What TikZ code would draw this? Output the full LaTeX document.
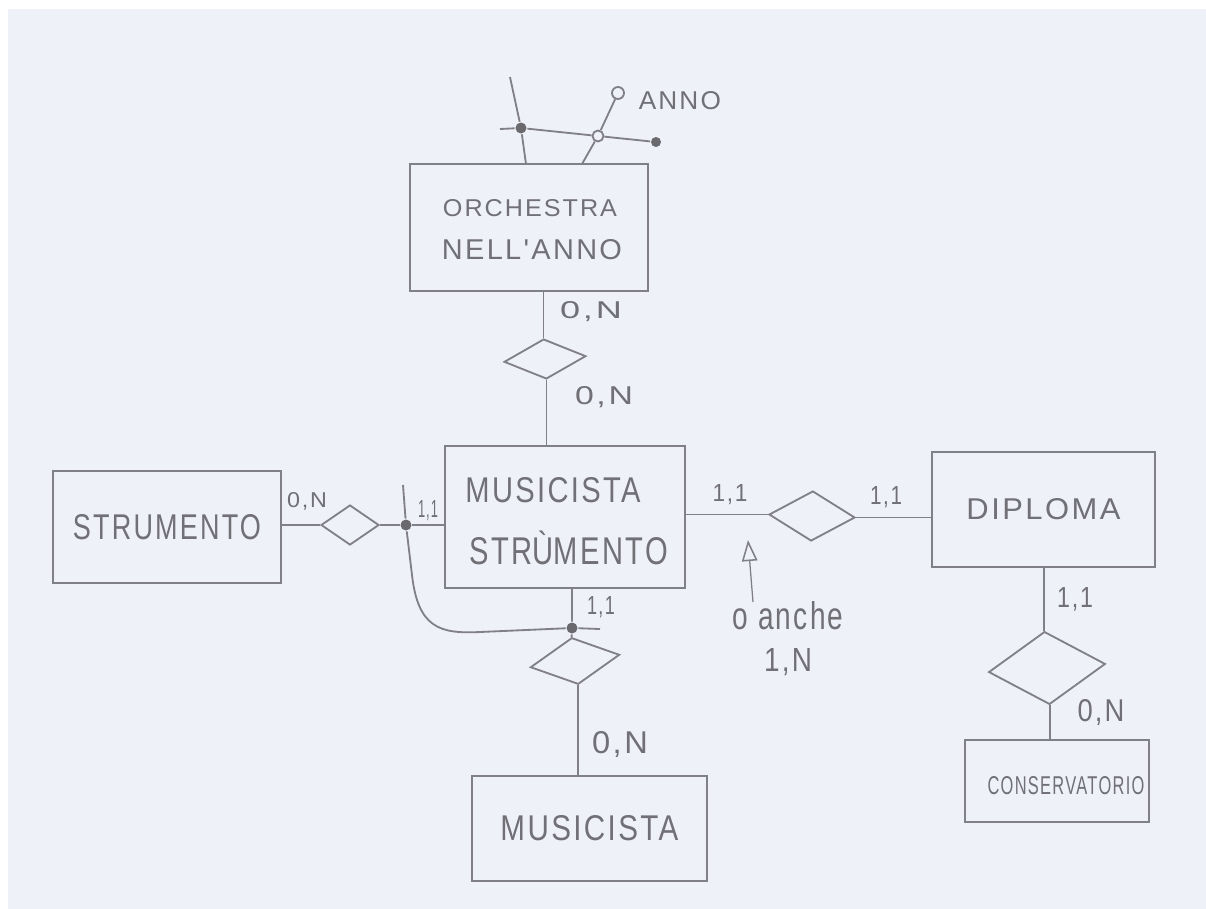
\documentclass[tikz,border=0pt]{standalone}
\usepackage{fontspec}
\usepackage{graphicx}
\usetikzlibrary{shapes.geometric,arrows.meta}
\newfontfamily\handfont[LetterSpace=8]{Liberation Sans}
\newdimen\px \px=0.025cm
\definecolor{paper}{RGB}{238,241,247}
\definecolor{pencil}{RGB}{128,128,134}
\definecolor{ink}{RGB}{112,112,118}
\definecolor{dotc}{RGB}{105,105,110}
\newcommand\hw[3]{\resizebox{#1\px}{#2\px}{\handfont #3}}
\tikzset{
  entity/.style={draw=pencil, rectangle, inner sep=0pt, text=ink},
  rel/.style={draw=pencil, diamond, inner sep=0pt},
  lbl/.style={text=ink, inner sep=0pt},
  dotf/.style={circle, fill=dotc, inner sep=0pt, minimum size=11\px},
  ring/.style={circle, draw=pencil, fill=paper, inner sep=0pt, minimum size=11\px},
  conn/.style={draw=pencil},
}
\begin{document}
\begin{tikzpicture}[x=0.025cm, y=-0.025cm, line width=1.3pt]
\fill[white] (0,0) rectangle (1206,909);
\fill[paper] (8,9) rectangle (1206,909);
\useasboundingbox (0,0) rectangle (1206,909);

% entities
\node[entity, minimum width=238\px, minimum height=127\px] (orch) at (529,227.5) {};
\node[lbl] (orchT1) at (530,208) {\hw{174}{17}{ORCHESTRA}};
\node[lbl] (orchT2) at (532,250) {\hw{180}{20}{NELL'ANNO}};

\node[entity, minimum width=228\px, minimum height=112\px] (strum) at (167,527) {\hw{188}{25}{STRUMENTO}};

\node[entity, minimum width=240\px, minimum height=142\px] (ms) at (565,517) {};
\node[lbl] (msT1) at (553,490) {\hw{175}{25}{MUSICISTA}};
\node[lbl] (msT2) at (569,551) {\hw{198}{27}{STR\smash{Ù}MENTO}};

\node[entity, minimum width=223\px, minimum height=115\px] (dip) at (1043.5,509.5) {\hw{154}{21}{DIPLOMA}};

\node[entity, minimum width=184\px, minimum height=82\px] (cons) at (1057,781) {};
\node[lbl] (consT) at (1066,786) {\hw{157}{18}{CONSERVATORIO}};

\node[entity, minimum width=235\px, minimum height=105\px] (mus) at (589.5,828.5) {\hw{178}{25}{MUSICISTA}};

% relationships
\node[rel, minimum width=82\px, minimum height=40\px, rotate=4] (d1) at (545,359) {};
\node[rel, minimum width=58\px, minimum height=40\px] (d2) at (350,525) {};
\node[rel, minimum width=86\px, minimum height=50\px, rotate=-2] (d3) at (812,516) {};
\node[rel, minimum width=90\px, minimum height=47\px, rotate=8] (d4) at (575,661) {};
\node[rel, minimum width=117\px, minimum height=73\px, rotate=4] (d5) at (1047,668) {};

% points
\node[dotf] (p2) at (406,525) {};
\node[dotf] (p3) at (572,628) {};
\coordinate (c1) at (403,485);

% connectors
\draw[conn] (orch.south -| d1.north) -- (d1.north);
\draw[conn] (d1.south) -- (d1.south |- ms.north);
\draw[conn] (d2.west -| strum.east) -- (d2.west);
\draw[conn] (d2.east) -- (p2) -- (p2 -| ms.west);
\draw[conn] (c1) -- (p2) -- (412,575) .. controls (418,628) and (440,634) .. (480,632) -- (p3) -- (600,629);
\draw[conn] (p3 |- ms.south) -- (p3) -- (d4.north);
\draw[conn] (d4.south) -- (d4.south |- mus.north);
\draw[conn] (d3.west -| ms.east) -- (d3.west);
\draw[conn] (d3.east) -- (d3.east -| dip.west);
\draw[conn] (dip.south -| d5.north) -- (d5.north);
\draw[conn] (d5.south) -- (d5.south |- cons.north);

% attributes of ORCHESTRA NELL'ANNO
\coordinate (k1) at (510,77);
\node[dotf] (k2) at (521,128) {};
\coordinate (k3) at (526,164);
\coordinate (h1) at (500,129);
\node[ring] (r1) at (598,136) {};
\node[dotf, minimum size=10\px] (r2) at (656,142) {};
\coordinate (s1) at (582,164);
\node[ring, minimum size=12\px] (annoC) at (618,93) {};
\node[lbl, anchor=west] (anno) at (638,101) {\hw{82}{18}{ANNO}};
\draw[conn] (k1) -- (k2) -- (k3);
\draw[conn] (h1) -- (k2) -- (r1) -- (r2);
\draw[conn] (s1) -- (r1) -- (annoC);

% cardinalities
\node[lbl] (l1) at (591,312) {\hw{62}{17}{0,N}};
\node[lbl] (l2) at (604,397) {\hw{58}{18}{0,N}};
\node[lbl] (l3) at (307,501) {\hw{40}{15}{0,N}};
\node[lbl] (l4) at (428,511) {\hw{20}{17}{1,1}};
\node[lbl] (l5) at (601,607) {\hw{28}{18}{1,1}};
\node[lbl] (l6) at (620,745) {\hw{56}{22}{0,N}};
\node[lbl] (l7) at (730,495) {\hw{35}{17}{1,1}};
\node[lbl] (l8) at (886,497) {\hw{32}{18}{1,1}};
\node[lbl] (l9) at (1075,599) {\hw{36}{20}{1,1}};
\node[lbl] (l10) at (1101,713) {\hw{47}{22}{0,N}};

% note
\node[lbl] (note1) at (788,616) {\hw{111}{28}{o anche}};
\node[lbl] (note2) at (788,662) {\hw{48}{23}{1,N}};
\coordinate (tailA) at (753,602);
\coordinate (tipA) at (748,540);
\draw[draw=pencil, line width=0.9pt, -{Triangle[open, length=15pt, width=11pt, line width=1.1pt]}] (tailA) -- (tipA);
\end{tikzpicture}
\end{document}
